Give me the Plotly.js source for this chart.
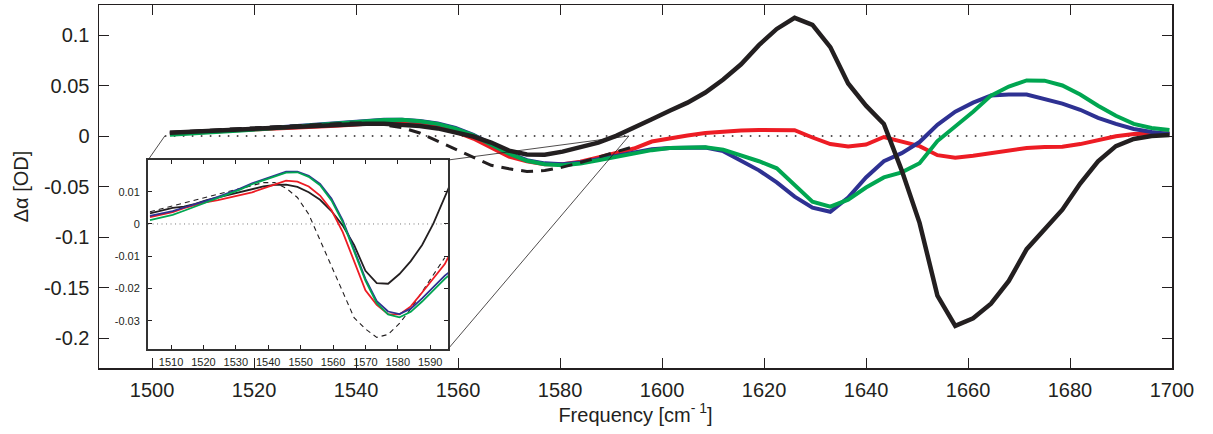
<!DOCTYPE html>
<html>
<head>
<meta charset="utf-8">
<script src="https://cdn.plot.ly/plotly-3.0.1.min.js"></script>
<style>html,body{margin:0;padding:0;background:#fff;}#chart{width:1213px;height:434px;}</style>
</head>
<body>
<div id="chart"></div>
<script>
// Frequency grid (cm^-1)
const freq = [1503.5,1507,1510.5,1514,1517.5,1521,1524.5,1528,1531.5,1535,1538.5,1542,1545.5,1549,1552.5,1556,1559.5,1563,1566.5,1570,1573.5,1577,1580.5,1584,1587.5,1591,1594.5,1598,1601.5,1605,1608.5,1612,1615.5,1619,1622.5,1626,1629.5,1633,1636.5,1640,1643.5,1647,1650.5,1654,1657.5,1661,1664.5,1668,1671.5,1675,1678.5,1682,1685.5,1689,1692.5,1696,1699.5];

const blackSolid = [0.0033,0.0042,0.0050,0.0054,0.0062,0.0074,0.0082,0.0090,0.0098,0.0107,0.0116,0.0121,0.0122,0.0115,0.0098,0.0075,0.0040,-0.0005,-0.0065,-0.0145,-0.0183,-0.0185,-0.0155,-0.0115,-0.0065,0.0002,0.0080,0.0165,0.025,0.033,0.043,0.056,0.071,0.090,0.106,0.117,0.110,0.088,0.052,0.030,0.012,-0.034,-0.086,-0.158,-0.188,-0.1805,-0.166,-0.1435,-0.112,-0.093,-0.073,-0.047,-0.025,-0.010,-0.003,0.000,0.001];

const blackDashed = [0.0038,0.0047,0.0056,0.0065,0.0075,0.0085,0.0094,0.0102,0.0110,0.0120,0.0128,0.0128,0.0111,0.0082,0.0030,-0.0050,-0.0130,-0.0212,-0.0290,-0.0325,-0.0351,-0.0342,-0.0308,-0.0263,-0.0210,-0.0157,-0.0104];

const red = [0.0021,0.0028,0.0037,0.0049,0.0059,0.0068,0.0074,0.0082,0.0090,0.0098,0.0110,0.0123,0.0134,0.0131,0.0116,0.0088,0.0043,-0.0025,-0.0115,-0.0205,-0.0250,-0.0279,-0.0280,-0.0255,-0.0212,-0.0168,-0.0124,-0.0055,-0.0020,0.0005,0.0030,0.0045,0.0055,0.0060,0.0060,0.0058,-0.0015,-0.0080,-0.0105,-0.0085,-0.0010,-0.0050,-0.0100,-0.0190,-0.0215,-0.0195,-0.0170,-0.0148,-0.0118,-0.0110,-0.0107,-0.0080,-0.0040,-0.0002,0.0020,0.0026,0.0026];

const blue = [0.0025,0.0032,0.0040,0.0051,0.0061,0.0072,0.0084,0.0096,0.0110,0.0126,0.0138,0.0149,0.0162,0.0162,0.0149,0.0124,0.0079,0.0011,-0.0080,-0.0170,-0.0239,-0.0271,-0.0279,-0.0262,-0.0230,-0.0194,-0.0160,-0.0132,-0.0118,-0.0112,-0.0115,-0.015,-0.024,-0.034,-0.046,-0.060,-0.071,-0.075,-0.061,-0.041,-0.025,-0.017,-0.006,0.011,0.024,0.033,0.040,0.041,0.041,0.037,0.032,0.026,0.018,0.012,0.007,0.004,0.002];

const green = [0.0012,0.0020,0.0028,0.0041,0.0054,0.0067,0.0080,0.0093,0.0107,0.0123,0.0135,0.0146,0.0159,0.0160,0.0146,0.0120,0.0073,0.0006,-0.0085,-0.0175,-0.0245,-0.0280,-0.0289,-0.0272,-0.0240,-0.0204,-0.0170,-0.0140,-0.0120,-0.0112,-0.0112,-0.0135,-0.019,-0.025,-0.032,-0.048,-0.065,-0.070,-0.063,-0.051,-0.041,-0.036,-0.027,-0.005,0.009,0.024,0.040,0.049,0.055,0.0548,0.050,0.041,0.030,0.020,0.012,0.008,0.006];

const mainXTicks = [1500,1520,1540,1560,1580,1600,1620,1640,1660,1680,1700];
const mainYTicks = [0.1,0.05,0,-0.05,-0.1,-0.15,-0.2];
const mainYTickText = ['0.1','0.05','0','-0.05','-0.1','-0.15','-0.2'];
const insetXTicks = [1510,1520,1530,1540,1550,1560,1570,1580,1590];
const insetYTicks = [0.01,0,-0.01,-0.02,-0.03];
const insetYTickText = ['0.01','0','-0.01','-0.02','-0.03'];

// Ranges / zoom window
const MAIN_X = [1489.6,1700], MAIN_Y = [-0.2297,0.1297];
const INSET_X = [1502.9,1595.5], INSET_Y = [-0.0387,0.0198];
const INSET_DOM_X = [0.0457,0.3253], INSET_DOM_Y = [0.0523,0.573];
const ZOOM_X = [1502.5,1593.5];

const C = {black:'#231f20', blue:'#2e3192', red:'#ed1c24', green:'#00a651'};
const FONT = 'Liberation Sans, Arial, Helvetica, sans-serif';

function px(x){return (x-MAIN_X[0])/(MAIN_X[1]-MAIN_X[0]);}
function py(y){return (y-MAIN_Y[0])/(MAIN_Y[1]-MAIN_Y[0]);}

const dashedX = freq.slice(0, blackDashed.length);

function series(y, color, width, dash, ax, xs){
  return {x: xs||freq, y: y, type:'scatter', mode:'lines', xaxis: ax[0], yaxis: ax[1],
    line:{color:color, width:width, dash:dash||'solid'}, hoverinfo:'skip'};
}

const traces = [
  series(red, C.red, 4, null, ['x','y']),
  series(blue, C.blue, 4, null, ['x','y']),
  series(green, C.green, 4, null, ['x','y']),
  series(blackDashed, C.black, 3, '12px,8px', ['x','y'], dashedX),
  series(blackSolid, C.black, 4.5, null, ['x','y']),
  series(blackDashed, C.black, 1.1, '5px,4px', ['x2','y2'], dashedX),
  series(blackSolid, C.black, 1.8, null, ['x2','y2']),
  series(red, C.red, 1.8, null, ['x2','y2']),
  series(blue, C.blue, 1.8, null, ['x2','y2']),
  series(green, C.green, 1.8, null, ['x2','y2'])
];

const shapes = [
  // main zero dotted line
  {type:'line', xref:'x', yref:'y', x0:ZOOM_X[0], x1:MAIN_X[1], y0:0, y1:0, layer:'below',
   line:{color:C.black, width:1.6, dash:'1.6px,7.4px'}},
  // inset zero dotted line
  {type:'line', xref:'x2', yref:'y2', x0:INSET_X[0], x1:INSET_X[1], y0:0, y1:0, layer:'below',
   line:{color:'#777', width:1, dash:'1px,3.5px'}},
  // zoom connector lines
  {type:'line', xref:'paper', yref:'paper', x0:px(ZOOM_X[0]), y0:py(0), x1:INSET_DOM_X[0], y1:INSET_DOM_Y[1],
   line:{color:C.black, width:0.8}},
  {type:'line', xref:'paper', yref:'paper', x0:px(ZOOM_X[1]), y0:py(0), x1:INSET_DOM_X[1], y1:INSET_DOM_Y[1],
   line:{color:C.black, width:0.8}},
  {type:'line', xref:'paper', yref:'paper', x0:px(ZOOM_X[1]), y0:py(0), x1:INSET_DOM_X[1], y1:INSET_DOM_Y[0],
   line:{color:C.black, width:0.8}}
];

const axBase = {showgrid:false, zeroline:false, showline:true, mirror:'ticks', ticks:'inside',
  linecolor:C.black, tickcolor:C.black};

const layout = {
  width:1213, height:434,
  margin:{l:99, r:41, t:5, b:66, pad:0},
  paper_bgcolor:'#fff', plot_bgcolor:'#fff',
  showlegend:false,
  font:{family:FONT, color:C.black},
  xaxis: Object.assign({}, axBase, {
    domain:[0,1], range:MAIN_X, tickvals:mainXTicks, ticklen:10, tickwidth:1, linewidth:1.5,
    tickfont:{family:FONT, size:20, color:C.black}, ticklabelstandoff:3,
    title:{text:'Frequency [cm<sup>- 1</sup>]', font:{family:FONT, size:20, color:C.black}, standoff:8}
  }),
  yaxis: Object.assign({}, axBase, {
    domain:[0,1], range:MAIN_Y, tickvals:mainYTicks, ticktext:mainYTickText, ticklen:10, tickwidth:1, linewidth:1.5,
    tickfont:{family:FONT, size:20, color:C.black}, ticklabelstandoff:4,
    title:{text:'Δα [OD]', font:{family:FONT, size:20, color:C.black}, standoff:10}
  }),
  xaxis2: Object.assign({}, axBase, {
    domain:INSET_DOM_X, anchor:'y2', range:INSET_X, tickvals:insetXTicks, ticklen:4, tickwidth:1,
    linewidth:2, linecolor:'#333', tickfont:{family:FONT, size:11, color:C.black}, ticklabelstandoff:2
  }),
  yaxis2: Object.assign({}, axBase, {
    domain:INSET_DOM_Y, anchor:'x2', range:INSET_Y, tickvals:insetYTicks, ticktext:insetYTickText, ticklen:4, tickwidth:1,
    linewidth:2, linecolor:'#333', tickfont:{family:FONT, size:11, color:C.black}, ticklabelstandoff:4
  }),
  shapes: shapes
};

Plotly.newPlot('chart', traces, layout, {displayModeBar:false, staticPlot:true});
</script>
</body>
</html>
